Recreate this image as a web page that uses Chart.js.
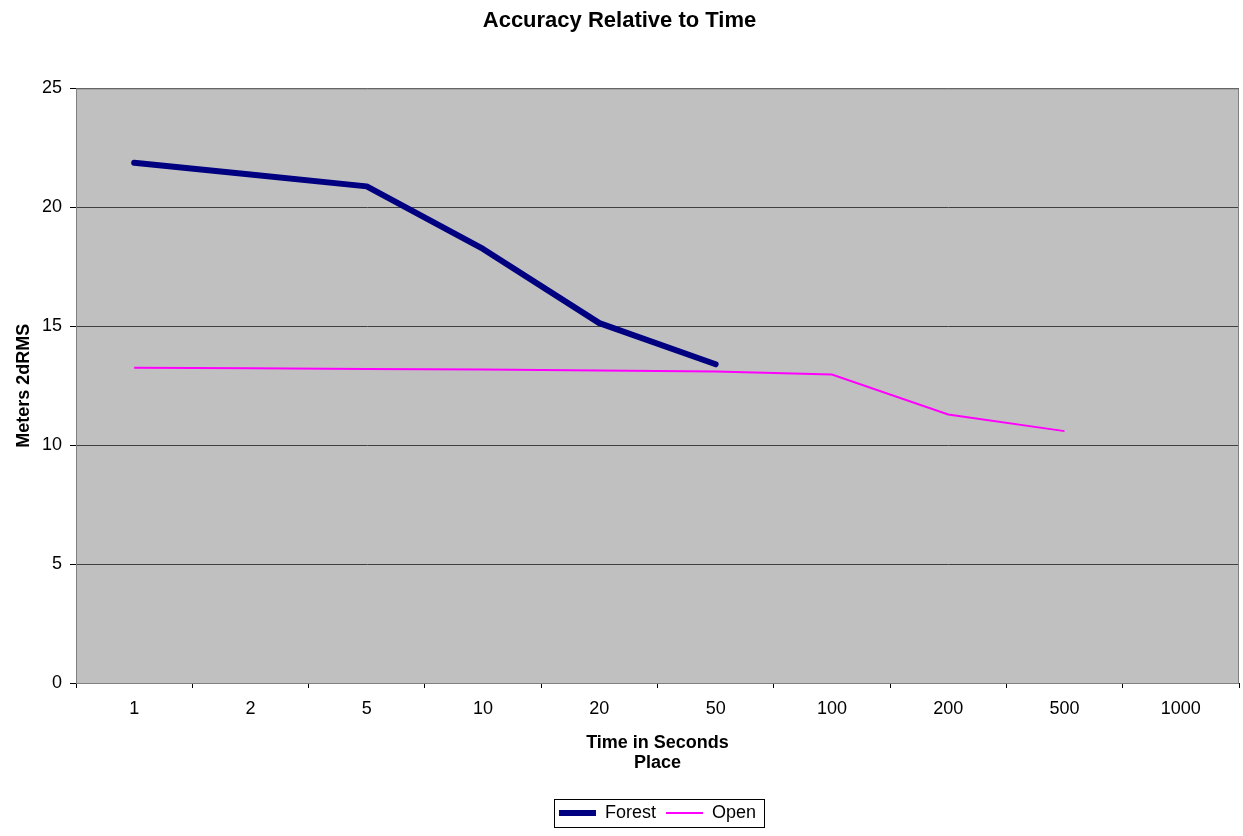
<!DOCTYPE html>
<html>
<head>
<meta charset="utf-8">
<script src="https://cdn.jsdelivr.net/npm/chart.js@4/dist/chart.umd.min.js"></script>
<style>
  html, body { margin: 0; padding: 0; background: #fff; }
  #wrap { width: 1243px; height: 836px; }
</style>
</head>
<body>
<div id="wrap"><canvas id="accChart" width="1243" height="836"></canvas></div>
<script>
/* ================= DATA ================= */

var timeLabels = ["1", "2", "5", "10", "20", "50", "100", "200", "500", "1000"];
var forestValues = [21.87, 21.38, 20.88, 18.25, 15.13, 13.40, null, null, null, null];
var openValues = [13.25, 13.23, 13.20, 13.18, 13.14, 13.10, 12.97, 11.29, 10.59, null];
var yTicks = [0, 5, 10, 15, 20, 25];

var FONT = "'Liberation Sans', Arial, sans-serif";

/* ================= PLUGINS ================= */

// grey plot area like the old Excel charts
var plotBack = {
  id: "plotBack",
  beforeDraw: function (chart) {
    var a = chart.chartArea, ctx = chart.ctx;
    ctx.save();
    ctx.fillStyle = "#c0c0c0";
    ctx.fillRect(a.left, a.top, a.right - a.left, a.bottom - a.top);
    ctx.restore();
  },
  afterDraw: function (chart) {
    var a = chart.chartArea, ctx = chart.ctx;
    ctx.save();
    ctx.strokeStyle = "#808080";
    ctx.lineWidth = 1;
    ctx.strokeRect(a.left + 0.5, a.top + 0.5, a.right - a.left - 1, a.bottom - a.top);
    ctx.restore();
  }
};

// black frame around the legend items
var legendFrame = {
  id: "legendFrame",
  afterDraw: function (chart) {
    var boxes = chart.legend.legendHitBoxes;
    if (!boxes || !boxes.length) return;
    var first = boxes[0], last = boxes[boxes.length - 1];
    var ctx = chart.ctx;
    var mid = first.top + first.height / 2;
    var x1 = first.left - 5, x2 = last.left + last.width + 8;
    var y1 = mid - 14, y2 = mid + 14;
    ctx.save();
    ctx.strokeStyle = "#000";
    ctx.lineWidth = 1;
    ctx.strokeRect(Math.round(x1) + 0.5, Math.round(y1) + 0.5, Math.round(x2 - x1), Math.round(y2 - y1));
    ctx.restore();
  }
};

/* ================= CHART ================= */

new Chart(document.getElementById("accChart"), {
  type: "line",
  data: {
    labels: timeLabels,
    datasets: [
      {
        label: "Forest",
        data: forestValues,
        borderColor: "#000080",
        backgroundColor: "#000080",
        borderWidth: 6,
        borderCapStyle: "round",
        borderJoinStyle: "round",
        pointRadius: 0,
        pointHoverRadius: 0,
        tension: 0,
        spanGaps: false
      },
      {
        label: "Open",
        data: openValues,
        borderColor: "#ff00ff",
        backgroundColor: "#ff00ff",
        borderWidth: 2,
        pointRadius: 0,
        pointHoverRadius: 0,
        tension: 0,
        spanGaps: false
      }
    ]
  },
  plugins: [plotBack, legendFrame],
  options: {
    responsive: false,
    animation: false,
    events: [],
    layout: { padding: { left: 0, right: 4, top: 0, bottom: 4 } },
    plugins: {
      title: {
        display: true,
        text: "Accuracy Relative to Time",
        color: "#000",
        font: { family: FONT, size: 22, weight: "bold", lineHeight: 1.2 },
        padding: { top: 8, bottom: 54 }
      },
      legend: {
        display: true,
        position: "bottom",
        fullSize: false,
        labels: {
          color: "#000",
          font: { family: FONT, size: 18 },
          usePointStyle: true,
          pointStyle: "line",
          pointStyleWidth: 37,
          padding: 10
        }
      },
      tooltip: { enabled: false }
    },
    scales: {
      x: {
        type: "category",
        offset: true,
        grid: {
          offset: true,
          drawOnChartArea: false,
          drawTicks: true,
          tickLength: 5,
          tickColor: "#000"
        },
        border: { display: true, color: "#000", width: 1 },
        ticks: {
          color: "#000",
          font: { family: FONT, size: 18 },
          padding: 10,
          maxRotation: 0,
          autoSkip: false
        },
        title: {
          display: true,
          text: ["Time in Seconds", "Place"],
          color: "#000",
          font: { family: FONT, size: 18, weight: "bold", lineHeight: 1.12 },
          padding: { top: 0, bottom: 21 }
        },
        afterFit: function (scale) { scale.height = 111; }
      },
      y: {
        min: 0,
        max: 25,
        afterBuildTicks: function (scale) {
          scale.ticks = yTicks.map(function (v) { return { value: v }; });
        },
        grid: {
          color: "#404040",
          lineWidth: 1,
          tickLength: 6,
          tickColor: "#000"
        },
        border: { display: true, color: "#606060", width: 1 },
        ticks: {
          color: "#000",
          font: { family: FONT, size: 18 },
          padding: 8
        },
        title: {
          display: true,
          text: "Meters 2dRMS",
          color: "#000",
          font: { family: FONT, size: 18, weight: "bold", lineHeight: 1.2 },
          padding: { top: 13, bottom: 0 }
        },
        afterFit: function (scale) { scale.width = 76; }
      }
    }
  }
});
</script>
</body>
</html>
